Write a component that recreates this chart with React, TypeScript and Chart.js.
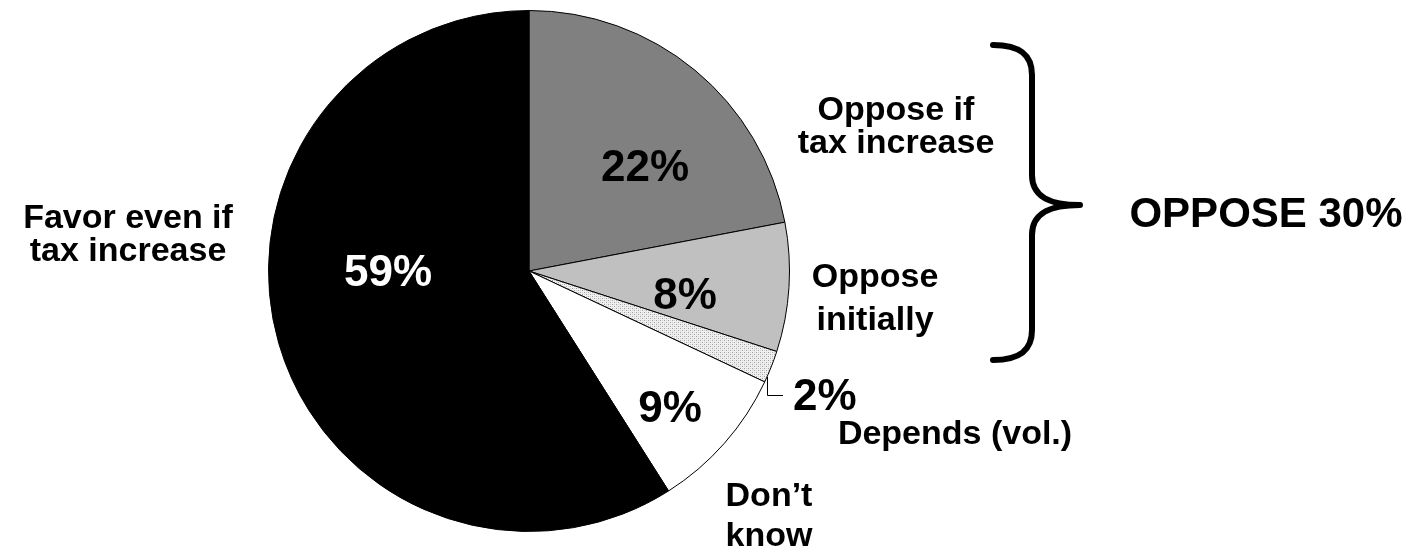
import React, { useEffect, useRef } from "react";
import { Chart, registerables } from "chart.js";

Chart.register(...registerables);

const categories = [
  "Oppose if tax increase",
  "Oppose initially",
  "Depends (vol.)",
  "Don't know",
  "Favor even if tax increase",
];
const values = [22, 8, 2, 9, 59];
const percentLabels = ["22%", "8%", "2%", "9%", "59%"];
const categoryLines = [
  ["Oppose if", "tax increase"],
  ["Oppose", "initially"],
  ["Depends (vol.)"],
  ["Don\u2019t", "know"],
  ["Favor even if", "tax increase"],
];
const summaryLabel = "OPPOSE 30%";

function makePattern(): CanvasPattern | string {
  const c = document.createElement("canvas");
  c.width = 4;
  c.height = 4;
  const ctx = c.getContext("2d");
  if (!ctx) return "#dddddd";
  ctx.fillStyle = "#f0f0f0";
  ctx.fillRect(0, 0, 4, 4);
  ctx.fillStyle = "#a0a0a0";
  ctx.fillRect(0, 0, 1, 1);
  ctx.fillRect(2, 2, 1, 1);
  ctx.fillStyle = "#d0d0d0";
  ctx.fillRect(2, 0, 1, 1);
  ctx.fillRect(0, 2, 1, 1);
  const p = ctx.createPattern(c, "repeat");
  return p || "#dddddd";
}

const labelPlugin = {
  id: "labelPlugin",
  afterDraw(chart: any) {
    const ctx: CanvasRenderingContext2D = chart.ctx;
    const arcs = chart.getDatasetMeta(0).data;
    if (!arcs.length) return;
    const cx = arcs[0].x;
    const cy = arcs[0].y;
    ctx.save();
    ctx.textAlign = "center";
    ctx.textBaseline = "middle";

    // percentage labels (offsets from pie centre)
    const pctOffsets: [number, number, string, CanvasTextAlign][] = [
      [116, -102, "#000", "center"],
      [156, 26, "#000", "center"],
      [264, 127, "#000", "left"],
      [141, 139, "#000", "center"],
      [-141, 3, "#fff", "center"],
    ];
    ctx.font = "bold 44px 'Liberation Sans', Arial, sans-serif";
    percentLabels.forEach((t, i) => {
      const [dx, dy, col, al] = pctOffsets[i];
      ctx.fillStyle = col;
      ctx.textAlign = al;
      ctx.fillText(t, cx + dx, cy + dy);
    });

    // category labels
    ctx.font = "bold 34px 'Liberation Sans', Arial, sans-serif";
    ctx.fillStyle = "#000";
    ctx.textAlign = "center";
    const catPos: [number, number, number][] = [
      [367, -160, 33],
      [346, 7, 43],
      [426, 164, 0],
      [240, 226, 40],
      [-401, -52, 33],
    ];
    categoryLines.forEach((lines, i) => {
      const [dx, dy, lh] = catPos[i];
      lines.forEach((ln, j) => {
        ctx.fillText(ln, cx + dx, cy + dy + j * lh);
      });
    });

    // leader line for the small slice
    ctx.strokeStyle = "#000";
    ctx.lineWidth = 1;
    ctx.beginPath();
    ctx.moveTo(cx + 238.5, cy + 106);
    ctx.lineTo(cx + 238.5, cy + 124.5);
    ctx.lineTo(cx + 254, cy + 124.5);
    ctx.stroke();

    // brace
    ctx.lineWidth = 6;
    ctx.lineCap = "round";
    ctx.lineJoin = "round";
    const bx = 1032;
    const top = 45;
    const bot = 360;
    const tipX = 1080;
    const tipY = 205;
    ctx.beginPath();
    ctx.moveTo(993, top);
    ctx.bezierCurveTo(1020, top, bx, top + 10, bx, top + 30);
    ctx.lineTo(bx, tipY - 30);
    ctx.bezierCurveTo(bx, tipY - 8, 1050, tipY, tipX, tipY);
    ctx.bezierCurveTo(1050, tipY, bx, tipY + 8, bx, tipY + 30);
    ctx.lineTo(bx, bot - 30);
    ctx.bezierCurveTo(bx, bot - 10, 1020, bot, 993, bot);
    ctx.stroke();

    // summary label
    ctx.font = "bold 42px 'Liberation Sans', Arial, sans-serif";
    ctx.textAlign = "center";
    ctx.fillText(summaryLabel, 1266, 215);
    ctx.restore();
  },
};

export default function App() {
  const ref = useRef<HTMLCanvasElement | null>(null);
  useEffect(() => {
    if (!ref.current) return;
    const chart = new Chart(ref.current, {
      type: "pie",
      data: {
        labels: categories,
        datasets: [
          {
            data: values,
            backgroundColor: ["#808080", "#c0c0c0", makePattern() as any, "#ffffff", "#000000"],
            borderColor: "#000000",
            borderWidth: 1,
          },
        ],
      },
      options: {
        responsive: false,
        animation: false,
        devicePixelRatio: 1,
        layout: { padding: { left: 268, right: 626, top: 10, bottom: 24 } },
        plugins: { legend: { display: false }, tooltip: { enabled: false } },
      },
      plugins: [labelPlugin],
    });
    return () => chart.destroy();
  }, []);
  return (
    <div style={{ position: "fixed", left: 0, top: 0, width: 1416, height: 556, background: "#fff" }}>
      <canvas ref={ref} width={1416} height={556} style={{ width: 1416, height: 556 }} />
    </div>
  );
}
